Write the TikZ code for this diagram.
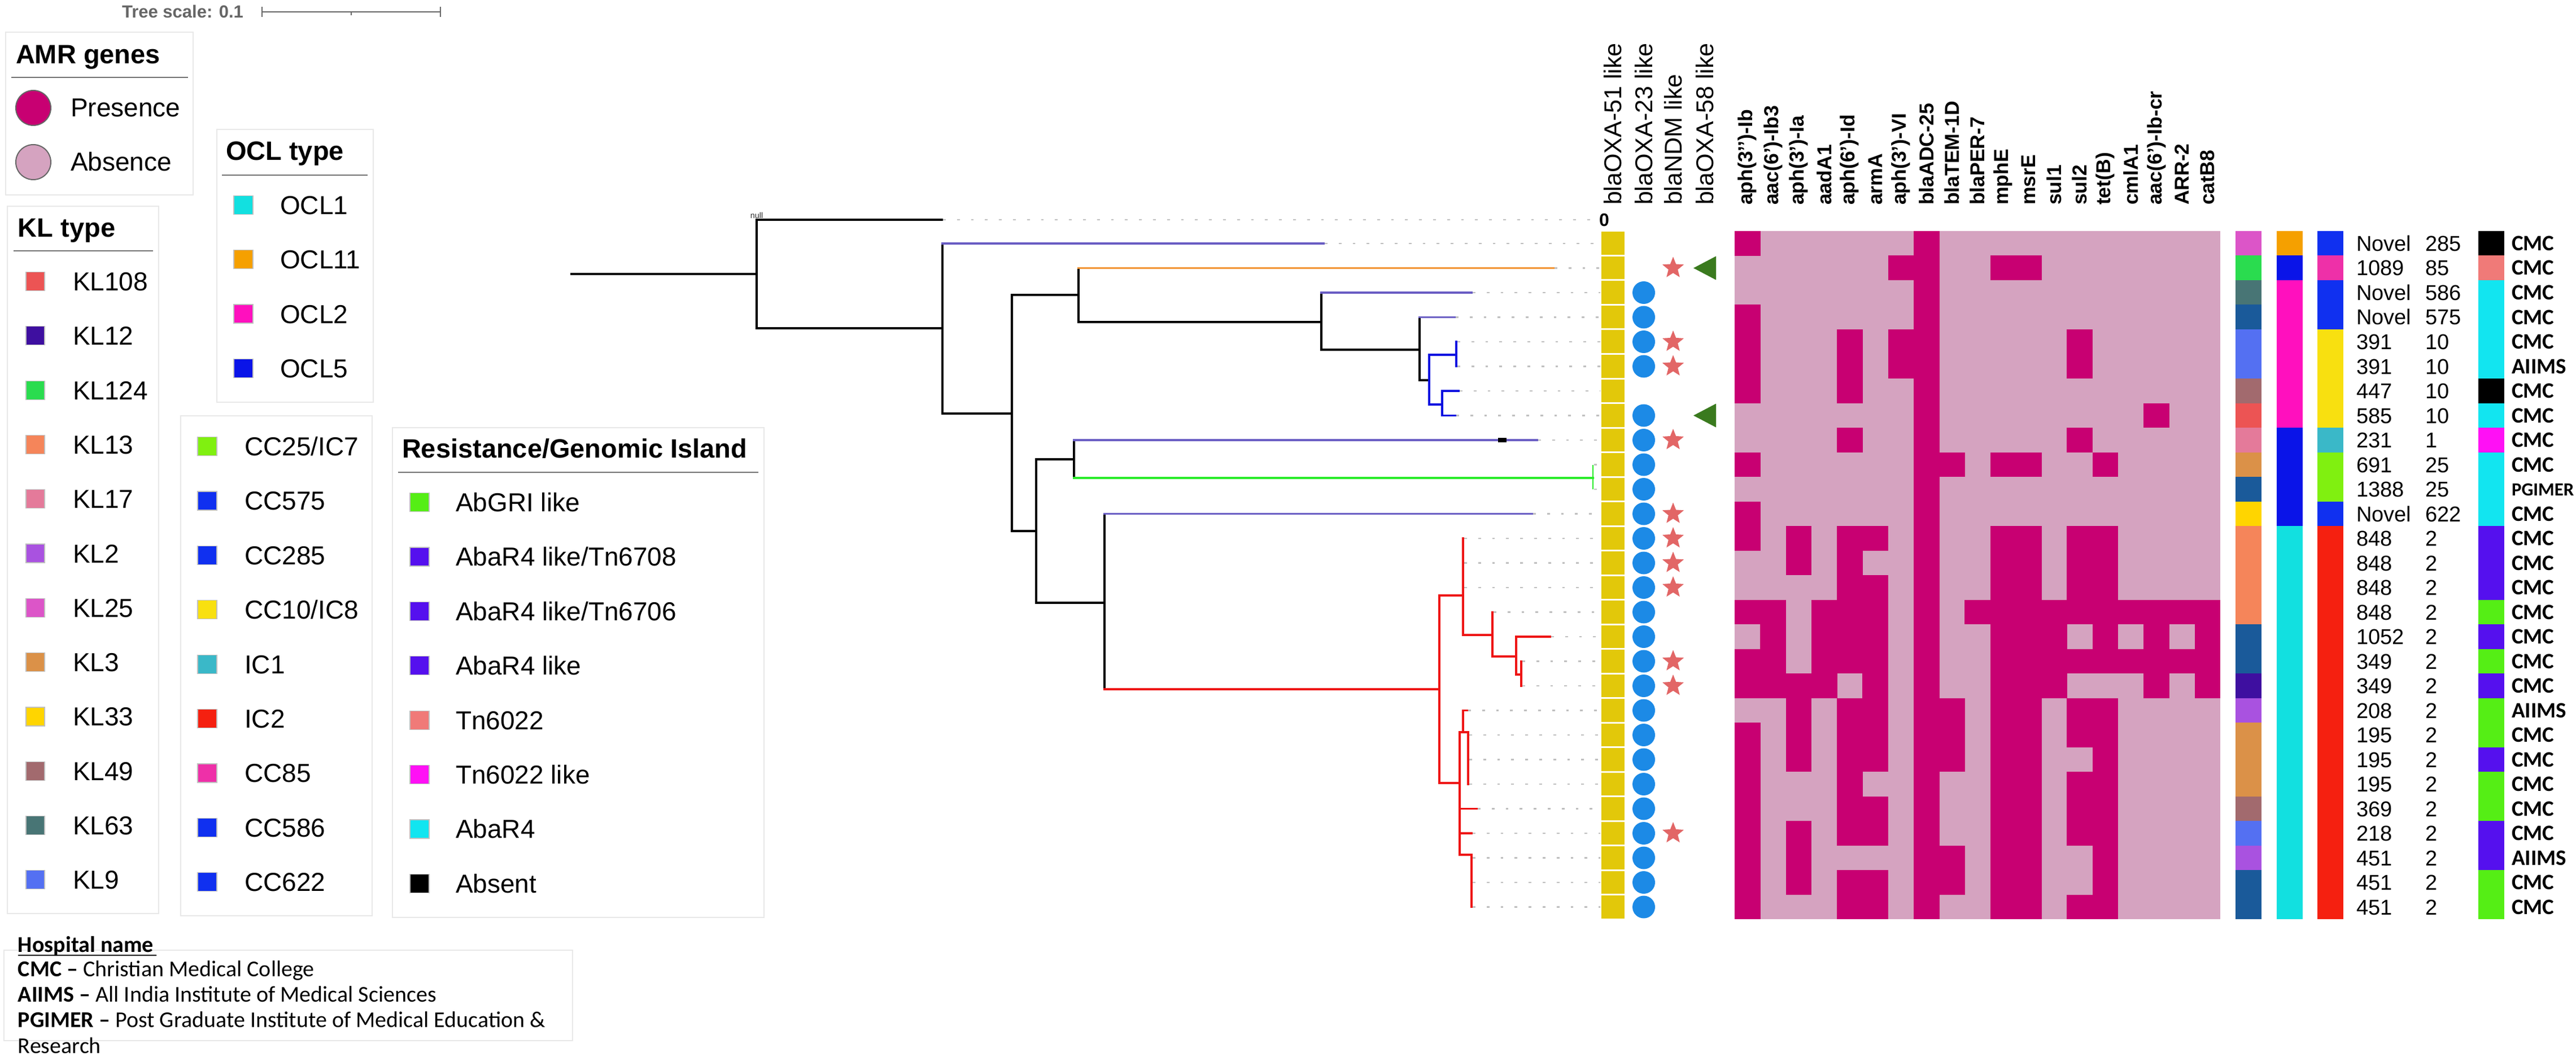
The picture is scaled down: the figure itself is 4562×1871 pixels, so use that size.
\documentclass[tikz,border=0pt]{standalone}
\usepackage{fontspec}
\setmainfont{Liberation Sans}
\newfontfamily\calib{Carlito}
\usetikzlibrary{shapes.geometric}
\definecolor{mg}{RGB}{200,0,114}
\definecolor{pk}{RGB}{213,163,192}
\definecolor{ylw}{RGB}{226,200,10}
\definecolor{oxa}{RGB}{28,138,230}
\definecolor{strc}{RGB}{226,102,102}
\definecolor{trig}{RGB}{58,122,30}
\definecolor{trp}{RGB}{106,94,196}
\definecolor{tro}{RGB}{242,146,48}
\definecolor{trb}{RGB}{10,16,224}
\definecolor{trg}{RGB}{40,235,40}
\definecolor{trr}{RGB}{238,20,20}
% KL
\definecolor{klA}{HTML}{EC5454}
\definecolor{klB}{HTML}{3E0FA0}
\definecolor{klC}{HTML}{2ADC4F}
\definecolor{klD}{HTML}{F5855A}
\definecolor{klE}{HTML}{E47A9A}
\definecolor{klF}{HTML}{A952E0}
\definecolor{klG}{HTML}{DC55C8}
\definecolor{klH}{HTML}{DB9148}
\definecolor{klI}{HTML}{FFD500}
\definecolor{klJ}{HTML}{A26A6E}
\definecolor{klK}{HTML}{487575}
\definecolor{klL}{HTML}{5470F2}
\definecolor{klX}{HTML}{1A5A9A}
% OCL
\definecolor{ocA}{HTML}{12E0E0}
\definecolor{ocB}{HTML}{F5A000}
\definecolor{ocC}{HTML}{FF10BE}
\definecolor{ocD}{HTML}{0A14E8}
% CC
\definecolor{ccA}{HTML}{80F010}
\definecolor{ccB}{HTML}{1030F0}
\definecolor{ccC}{HTML}{F8E010}
\definecolor{ccD}{HTML}{3AB8C8}
\definecolor{ccE}{HTML}{F52010}
\definecolor{ccF}{HTML}{EE30A8}
% island
\definecolor{isA}{HTML}{55EE15}
\definecolor{isB}{HTML}{5510EE}
\definecolor{isC}{HTML}{F07A78}
\definecolor{isD}{HTML}{FF10F5}
\definecolor{isE}{HTML}{12E5F0}
\newcommand\hmrow[2]{\foreach \cc in {#2}{\fill[mg] ({3072+45.26*(\cc-1)},{409+43.5*(#1-1)}) rectangle +(45.7,43.9);}}
\newcommand\ap{\char"0027\relax}
\begin{document}
\begin{tikzpicture}[x=0.25pt,y=-0.25pt,
  every node/.style={inner sep=0pt,outer sep=0pt},
  lgtitle/.style={anchor=base west,font=\fontsize{11.75}{14}\selectfont\bfseries},
  lgitem/.style={anchor=base west,font=\fontsize{11.5}{14}\selectfont},
  lgbox/.style={draw=black!9,line width=0.5pt},
  lgline/.style={draw=black!55,line width=0.7pt},
  sq/.style={draw=black!25,line width=0.3pt},
  tr/.style={line width=0.9pt,line cap=rect},
  leader/.style={draw=black!25,line width=0.6pt,dash pattern=on 1.2pt off 5pt},
  hdr/.style={rotate=90,anchor=west,font=\fontsize{10.75}{12}\selectfont},
  ghdr/.style={rotate=90,anchor=west,font=\fontsize{8.9}{10}\selectfont\bfseries},
  sttext/.style={anchor=base west,font=\fontsize{9.5}{11}\selectfont},
  hosp/.style={anchor=base west,font=\calib\fontsize{9.75}{11}\selectfont\bfseries}]
\useasboundingbox (0,0) rectangle (4562,1871);
\fill[white] (0,0) rectangle (4562,1871);

% ---------- tree scale ----------
\node[anchor=base east,font=\fontsize{7.75}{9}\selectfont\bfseries,text=black!60] (tscale) at (431,32) {Tree scale: 0.1};
\draw[black!60,line width=0.7pt] (464,21) -- (780,21);
\draw[black!60,line width=0.7pt] (464,12) -- (464,30) (780,12) -- (780,30) (622,21) -- (622,27);

% ---------- AMR legend ----------
\draw[lgbox] (10,57) rectangle (342,345);
\node[lgtitle] (amrt) at (28,113) {AMR genes};
\draw[lgline] (20,137) -- (333,137);
\fill[mg,draw=black!60,line width=0.5pt] (59,191) circle[radius=31];
\node[lgitem] (pres) at (125,207) {Presence};
\fill[pk,draw=black!60,line width=0.5pt] (59,287) circle[radius=31];
\node[lgitem] (abs) at (125,303) {Absence};

% ---------- OCL legend ----------
\draw[lgbox] (384,229) rectangle (661,712);
\node[lgtitle] (oclt) at (400,284) {OCL type};
\draw[lgline] (393,310) -- (651,310);
\foreach \t/\c [count=\k from 0] in {OCL1/ocA,OCL11/ocB,OCL2/ocC,OCL5/ocD}{
  \pgfmathsetmacro\yy{363+96.3*\k}
  \fill[\c,sq] (414,{\yy-16.5}) rectangle (448,{\yy+16.5});
  \node[lgitem] (ocl\k) at (496,{\yy+16.5}) {\t};
}

% ---------- KL legend ----------
\draw[lgbox] (13,365) rectangle (281,1617);
\node[lgtitle] (klt) at (32,420) {KL type};
\draw[lgline] (24,444) -- (271,444);
\foreach \t/\c [count=\k from 0] in {KL108/klA,KL12/klB,KL124/klC,KL13/klD,KL17/klE,KL2/klF,KL25/klG,KL3/klH,KL33/klI,KL49/klJ,KL63/klK,KL9/klL}{
  \pgfmathsetmacro\yy{498+96.3*\k}
  \fill[\c,sq] (46,{\yy-16.5}) rectangle (79,{\yy+16.5});
  \node[lgitem] (kl\k) at (129,{\yy+16.5}) {\t};
}

% ---------- CC legend ----------
\draw[lgbox] (320,736) rectangle (659,1621);
\foreach \t/\c [count=\k from 0] in {{CC25/IC7}/ccA,CC575/ccB,CC285/ccB,{CC10/IC8}/ccC,IC1/ccD,IC2/ccE,CC85/ccF,CC586/ccB,CC622/ccB}{
  \pgfmathsetmacro\yy{790+96.4*\k}
  \fill[\c,sq] (350,{\yy-16.5}) rectangle (384,{\yy+16.5});
  \node[lgitem] (cc\k) at (433,{\yy+16.5}) {\t};
}

% ---------- Resistance legend ----------
\draw[lgbox] (695,757) rectangle (1353,1624);
\node[lgtitle] (rest) at (712,810) {Resistance/Genomic Island};
\draw[lgline] (705,836) -- (1343,836);
\foreach \t/\c [count=\k from 0] in {AbGRI like/isA,{AbaR4 like/Tn6708}/isB,{AbaR4 like/Tn6706}/isB,AbaR4 like/isB,Tn6022/isC,Tn6022 like/isD,AbaR4/isE,Absent/black}{
  \pgfmathsetmacro\yy{889+96.4*\k}
  \fill[\c,sq] (726,{\yy-16.5}) rectangle (760,{\yy+16.5});
  \node[lgitem] (is\k) at (807,{\yy+16.5}) {\t};
}

% ---------- Hospital legend ----------
\draw[lgbox] (7,1682) rectangle (1014,1842);
\node[anchor=base west,font=\calib\fontsize{10}{12}\selectfont\bfseries] (hn) at (32,1685) {Hospital name};
\draw[black,line width=0.6pt] (32,1691) -- (277,1691);
\node[anchor=base west,font=\calib\fontsize{10}{12}\selectfont] (h1) at (32,1728) {\textbf{CMC –} Christian Medical College};
\node[anchor=base west,font=\calib\fontsize{10}{12}\selectfont] (h2) at (32,1773) {\textbf{AIIMS –} All India Institute of Medical Sciences};
\node[anchor=base west,font=\calib\fontsize{10}{12}\selectfont] (h3) at (32,1818) {\textbf{PGIMER –} Post Graduate Institute of Medical Education \&};
\node[anchor=base west,font=\calib\fontsize{10}{12}\selectfont] (h4) at (32,1864) {Research};

% ---------- tree ----------
\node[font=\fontsize{3.6}{4}\selectfont,anchor=base,text=black!80] (nulllab) at (1340,387) {null};
\draw[tr,black] (1012,485) -- (1340,485);
\draw[tr,black] (1340,389) -- (1340,581);
\draw[tr,black] (1340,389) -- (1668,389);
\draw[tr,black] (1340,581) -- (1669,581);
\draw[tr,black] (1669,431) -- (1669,732);
\draw[tr,trp] (1669,431) -- (2344,431);
\draw[tr,black] (1669,732) -- (1792,732);
\draw[tr,black] (1792,522) -- (1792,940);
\draw[tr,black] (1792,522) -- (1910,522);
\draw[tr,black] (1910,474.5) -- (1910,570);
\draw[tr,tro] (1910,474.5) -- (2751,474.5);
\draw[tr,black] (1910,570) -- (2340,570);
\draw[tr,black] (2340,518) -- (2340,619);
\draw[tr,trp] (2340,518) -- (2606,518);
\draw[tr,black] (2340,619) -- (2514,619);
\draw[tr,black] (2514,561.5) -- (2514,673);
\draw[tr,trp] (2514,561.5) -- (2576,561.5);
\draw[tr,black] (2514,673) -- (2531,673);
\draw[tr,trb] (2531,628) -- (2531,716);
\draw[tr,trb] (2531,628) -- (2579,628);
\draw[tr,trb] (2579,605) -- (2579,648.5);
\draw[tr,trb] (2531,716) -- (2554,716);
\draw[tr,trb] (2554,692) -- (2554,735.5);
\draw[tr,trb] (2554,692) -- (2583,692);
\draw[tr,trb] (2554,735.5) -- (2577,735.5);
\draw[tr,black] (1792,940) -- (1835,940);
\draw[tr,black] (1835,813) -- (1835,1067);
\draw[tr,black] (1835,813) -- (1902,813);
\draw[tr,black] (1902,779) -- (1902,846);
\draw[tr,trp] (1902,779) -- (2722,779);
\draw[black,line width=1.8pt] (2653,779) -- (2668,779);
\draw[tr,trg] (1902,846) -- (2821,846);
\draw[trg,line width=0.6pt] (2821,822.5) -- (2821,866);
\draw[tr,black] (1835,1067) -- (1956,1067);
\draw[tr,black] (1956,909.5) -- (1956,1220);
\draw[tr,trp] (1956,909.5) -- (2713,909.5);
\draw[tr,trr] (1956,1220) -- (2549,1220);
\draw[tr,trr] (2549,1054) -- (2549,1386);
\draw[tr,trr] (2549,1054) -- (2591,1054);
\draw[tr,trr] (2591,953) -- (2591,1124);
\draw[tr,trr] (2591,1124) -- (2643,1124);
\draw[tr,trr] (2643,1083.5) -- (2643,1162);
\draw[tr,trr] (2643,1162) -- (2685,1162);
\draw[tr,trr] (2685,1127) -- (2685,1194);
\draw[tr,trr] (2685,1127) -- (2745,1127);
\draw[tr,trr] (2685,1194) -- (2694,1194);
\draw[tr,trr] (2694,1170.5) -- (2694,1214);
\draw[tr,trr] (2549,1386) -- (2585,1386);
\draw[tr,trr] (2585,1296) -- (2585,1513);
\draw[tr,trr] (2585,1296) -- (2600,1296);
\draw[tr,trr] (2591,1257.5) -- (2591,1296);
\draw[tr,trr] (2591,1257.5) -- (2598,1257.5);
\draw[tr,trr] (2600,1296) -- (2600,1388);
\draw[tr,trr] (2585,1431.5) -- (2615,1431.5);
\draw[tr,trr] (2585,1475) -- (2606,1475);
\draw[tr,trr] (2585,1513) -- (2606,1513);
\draw[tr,trr] (2606,1513) -- (2606,1605.5);

% leaders
\draw[leader] (1670,389) -- (2826,389);
\foreach \r/\tip in {1/2346,2/2753,3/2608,4/2578,5/2581,6/2581,7/2585,8/2579,9/2724,10/2823,11/2823,12/2715,13/2593,14/2593,15/2593,16/2645,17/2747,18/2696,19/2696,20/2600,21/2602,22/2602,23/2602,24/2617,25/2608,26/2608,27/2608,28/2608}{
  \draw[leader] (\tip,{431+43.5*(\r-1)}) -- (2834,{431+43.5*(\r-1)});
}
\node[font=\fontsize{8}{9}\selectfont\bfseries] (zero) at (2841,389) {0};

% ---------- column headers ----------
\node[hdr] (h51) at (2856,363) {blaOXA-51 like};
\node[hdr] (h23) at (2911,363) {blaOXA-23 like};
\node[hdr] (hndm) at (2963,363) {blaNDM like};
\node[hdr] (h58) at (3019,363) {blaOXA-58 like};
\foreach \t [count=\k] in {aph(3\ap\ap)-Ib,aac(6\ap)-Ib3,aph(3\ap)-Ia,aadA1,aph(6\ap)-Id,armA,aph(3\ap)-VI,blaADC-25,blaTEM-1D,blaPER-7,mphE,msrE,sul1,sul2,tet(B),cmlA1,aac(6\ap)-Ib-cr,ARR-2,catB8}{
  \node[ghdr] (g\k) at ({3072+45.26*(\k-0.5)},363) {\t};
}

% ---------- blaOXA-51 squares ----------
\foreach \r in {1,...,28}{
  \fill[ylw] (2836,{409+43.5*(\r-1)+1.5}) rectangle (2877,{409+43.5*\r-1.5});
}
% blaOXA-23 circles
\foreach \r in {3,4,5,6,8,9,10,11,12,13,14,15,16,17,18,19,20,21,22,23,24,25,26,27,28}{
  \fill[oxa] (2911,{431+43.5*(\r-1)}) ellipse[x radius=20,y radius=20];
}
% blaNDM stars
\foreach \r in {2,5,6,9,12,13,14,15,18,19,25}{
  \node[star,star points=5,star point ratio=2.3,fill=strc,minimum size=10pt] (st\r) at (2963,{431+43.5*(\r-1)}) {};
}
% blaOXA-58 triangles
\foreach \r in {2,8}{
  \fill[trig] (2999,{431+43.5*(\r-1)}) -- (3039,{431+43.5*(\r-1)-21}) -- (3039,{431+43.5*(\r-1)+21}) -- cycle;
}

% ---------- heatmap ----------
\fill[pk] (3072,409) rectangle (3932,1627);
\hmrow{1}{1,8}
\hmrow{2}{7,8,11,12}
\hmrow{3}{8}
\hmrow{4}{1,8}
\hmrow{5}{1,5,7,8,14}
\hmrow{6}{1,5,7,8,14}
\hmrow{7}{1,5,8}
\hmrow{8}{8,17}
\hmrow{9}{5,8,14}
\hmrow{10}{1,8,9,11,12,15}
\hmrow{11}{8}
\hmrow{12}{1,8}
\hmrow{13}{1,3,5,6,8,11,12,14,15}
\hmrow{14}{3,5,8,11,12,14,15}
\hmrow{15}{5,6,8,11,12,14,15}
\hmrow{16}{1,2,4,5,6,8,10,11,12,13,14,15,16,17,18,19}
\hmrow{17}{2,4,5,6,8,11,12,13,15,17,19}
\hmrow{18}{1,2,4,5,6,8,11,12,13,14,15,16,17,18,19}
\hmrow{19}{1,2,3,4,6,8,11,12,13,17,19}
\hmrow{20}{3,5,6,8,9,11,12,14,15}
\hmrow{21}{1,3,5,6,8,9,11,12,14,15}
\hmrow{22}{1,3,5,6,8,9,11,12,15}
\hmrow{23}{1,5,8,11,12,14,15}
\hmrow{24}{1,5,6,8,11,12,14,15}
\hmrow{25}{1,3,5,6,8,11,12,14,15}
\hmrow{26}{1,3,8,9,11,12,15}
\hmrow{27}{1,3,5,6,8,9,11,12,15}
\hmrow{28}{1,5,6,8,11,12,14,15}

% ---------- annotation strips ----------
\foreach \r/\c in {1/klG,2/klC,3/klK,4/klX,5/klL,6/klL,7/klJ,8/klA,9/klE,10/klH,11/klX,12/klI,13/klD,14/klD,15/klD,16/klD,17/klX,18/klX,19/klB,20/klF,21/klH,22/klH,23/klH,24/klJ,25/klL,26/klF,27/klX,28/klX}{
  \fill[\c] (3959,{409+43.5*(\r-1)}) rectangle +(46,43.9);
}
\foreach \r/\c in {1/ocB,2/ocD,3/ocC,4/ocC,5/ocC,6/ocC,7/ocC,8/ocC,9/ocD,10/ocD,11/ocD,12/ocD,13/ocA,14/ocA,15/ocA,16/ocA,17/ocA,18/ocA,19/ocA,20/ocA,21/ocA,22/ocA,23/ocA,24/ocA,25/ocA,26/ocA,27/ocA,28/ocA}{
  \fill[\c] (4032,{409+43.5*(\r-1)}) rectangle +(46,43.9);
}
\foreach \r/\c in {1/ccB,2/ccF,3/ccB,4/ccB,5/ccC,6/ccC,7/ccC,8/ccC,9/ccD,10/ccA,11/ccA,12/ccB,13/ccE,14/ccE,15/ccE,16/ccE,17/ccE,18/ccE,19/ccE,20/ccE,21/ccE,22/ccE,23/ccE,24/ccE,25/ccE,26/ccE,27/ccE,28/ccE}{
  \fill[\c] (4104,{409+43.5*(\r-1)}) rectangle +(46,43.9);
}
\foreach \r/\c in {1/black,2/isC,3/isE,4/isE,5/isE,6/isE,7/black,8/isE,9/isD,10/isE,11/isE,12/isE,13/isB,14/isB,15/isB,16/isA,17/isB,18/isA,19/isB,20/isA,21/isA,22/isB,23/isA,24/isA,25/isB,26/isB,27/isA,28/isA}{
  \fill[\c] (4389,{409+43.5*(\r-1)}) rectangle +(46,43.9);
}

% ---------- ST / CC / hospital labels ----------
\foreach \r/\st/\cc/\h in {1/Novel/285/CMC,2/1089/85/CMC,3/Novel/586/CMC,4/Novel/575/CMC,5/391/10/CMC,6/391/10/AIIMS,7/447/10/CMC,8/585/10/CMC,9/231/1/CMC,10/691/25/CMC,11/1388/25/PGIMER,12/Novel/622/CMC,13/848/2/CMC,14/848/2/CMC,15/848/2/CMC,16/848/2/CMC,17/1052/2/CMC,18/349/2/CMC,19/349/2/CMC,20/208/2/AIIMS,21/195/2/CMC,22/195/2/CMC,23/195/2/CMC,24/369/2/CMC,25/218/2/CMC,26/451/2/AIIMS,27/451/2/CMC,28/451/2/CMC}{
  \pgfmathsetmacro\yy{431+43.5*(\r-1)}
  \node[sttext] (st-\r) at (4173,{\yy+13.5}) {\st};
  \node[sttext] (cc-\r) at (4295,{\yy+13.5}) {\cc};
}
\foreach \r/\h in {1/CMC,2/CMC,3/CMC,4/CMC,5/CMC,6/AIIMS,7/CMC,8/CMC,9/CMC,10/CMC,12/CMC,13/CMC,14/CMC,15/CMC,16/CMC,17/CMC,18/CMC,19/CMC,20/AIIMS,21/CMC,22/CMC,23/CMC,24/CMC,25/CMC,26/AIIMS,27/CMC,28/CMC}{
  \node[hosp] (hp-\r) at (4448,{431+43.5*(\r-1)+12.5}) {\h};
}
\node[hosp,font=\calib\fontsize{8.2}{10}\selectfont\bfseries] (hp-11) at (4448,{431+43.5*10+11}) {PGIMER};
\end{tikzpicture}
\end{document}
